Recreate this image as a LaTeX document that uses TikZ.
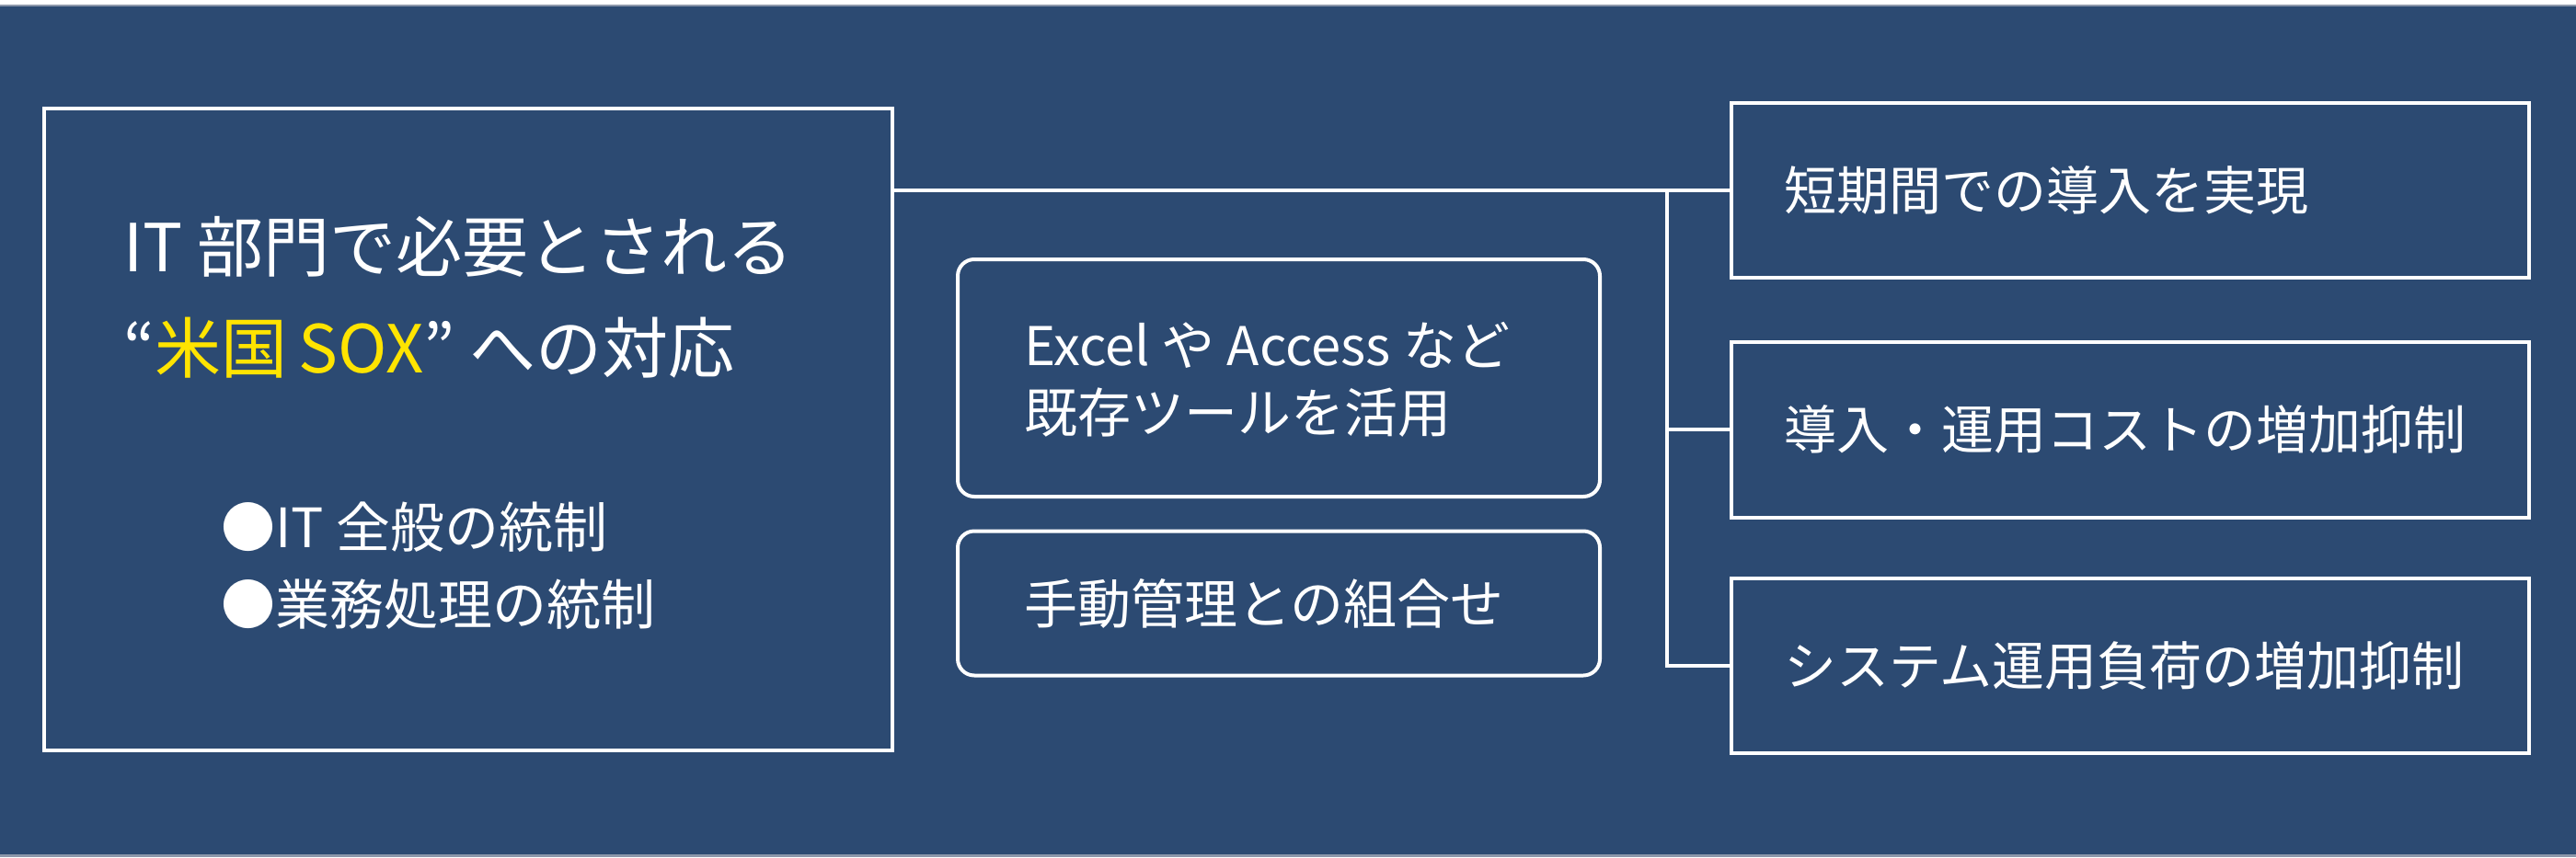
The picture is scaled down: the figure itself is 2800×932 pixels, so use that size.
\documentclass[tikz,border=0pt]{standalone}
\usepackage{fontspec}
\setmainfont{Noto Sans CJK JP}
\definecolor{bg}{HTML}{2C4A72}
\definecolor{hl}{HTML}{FFE400}
\definecolor{edge}{HTML}{8C97AA}
\newcommand{\fsz}[1]{\fontsize{#1}{#1}\selectfont}
\begin{document}
\begin{tikzpicture}[x=1pt,y=-1pt,
  sqbox/.style={draw=white, line width=4pt, rectangle, inner sep=0pt},
  rdbox/.style={draw=white, line width=4pt, rectangle, rounded corners=18pt, inner sep=0pt},
  txt/.style={text=white, inner sep=0pt, anchor=west, align=left},
  conn/.style={draw=white, line width=4pt}]
\useasboundingbox (0,0) rectangle (2800,932);
\fill[bg] (0,0) rectangle (2800,932);
\fill[white] (0,0) rectangle (2800,5);
\fill[edge] (0,5) rectangle (2800,7);
\fill[edge] (0,929) rectangle (2800,932);

% left main box
\node[sqbox, minimum width=922pt, minimum height=698pt] (main) at (509,467) {};
\node[txt, font={\fontsize{72}{110}\selectfont}] (title) at (134,323)
  {IT 部門で必要とされる\\“\textcolor{hl}{米国\,SOX}” への対応};
\node[txt, font={\fontsize{59}{84}\selectfont}] (bul) at (240,615)
  {●IT 全般の統制\\●業務処理の統制};

% middle rounded boxes
\node[rdbox, minimum width=698pt, minimum height=258pt] (ma) at (1390,411) {};
\node[txt, font={\fontsize{58}{73}\selectfont}] (mat) at (1113,413)
  {Excel や Access など\\既存ツールを活用};
\node[rdbox, minimum width=698pt, minimum height=157pt] (mb) at (1390,656) {};
\node[txt, font=\fsz{58}] (mbt) at (1113,656) {手動管理との組合せ};

% right boxes
\node[sqbox, minimum width=867pt, minimum height=190pt] (r1) at (2315,207) {};
\node[txt, font=\fsz{57}] (r1t) at (1939,207) {短期間での導入を実現};
\node[sqbox, minimum width=867pt, minimum height=191pt] (r2) at (2315,467) {};
\node[txt, font=\fsz{57}] (r2t) at (1939,467) {導入・運用コストの増加抑制};
\node[sqbox, minimum width=867pt, minimum height=190pt] (r3) at (2315,724) {};
\node[txt, font=\fsz{57}] (r3t) at (1939,724) {システム運用負荷の増加抑制};

% connectors
\coordinate (trunk) at (1812,0);
\draw[conn] (main.east |- r1.west) -- (r1.west);
\draw[conn] (trunk |- r1.west) |- (r3.west);
\draw[conn] (trunk |- r2.west) -- (r2.west);
\end{tikzpicture}
\end{document}
